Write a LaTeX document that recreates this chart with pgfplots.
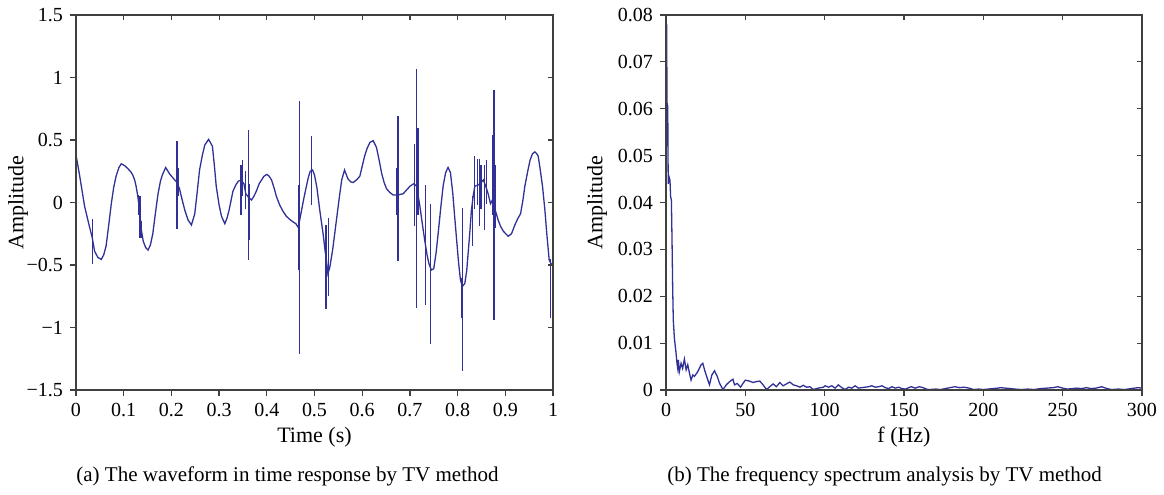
\documentclass[border=0pt]{standalone}
\usepackage{fontspec}
\setmainfont{Liberation Serif}
\usepackage{pgfplots}
\pgfplotsset{compat=1.18}
\definecolor{wave}{RGB}{48,48,150}
\pgfplotsset{
  mybase/.style={scale only axis, width=238.5pt, height=187.5pt, scaled ticks=false,
    axis line style={black!75, line width=0.6pt},
    tick style={black!75, line width=0.6pt}, major tick length=3pt,
    tick align=outside, xtick pos=left, ytick pos=left,
    ticklabel style={font=\fontsize{10}{11}\selectfont},
    label style={font=\fontsize{11}{12}\selectfont}},
  myover/.style={scale only axis, width=238.5pt, height=187.5pt, scaled ticks=false,
    axis line style={black!75, line width=0.6pt},
    tick style={black!75, line width=0.6pt}, major tick length=2.5pt,
    tick align=inside, xtick pos=right, ytick pos=right,
    xticklabels={}, yticklabels={}},
}
\begin{document}
\begin{tikzpicture}
\path[use as bounding box] (0,0) rectangle (582pt,-247pt);
% ---------- left: waveform ----------
\begin{axis}[mybase, at={(38pt,-7.5pt)}, anchor=north west,
  xmin=0, xmax=1, ymin=-1.5, ymax=1.5,
  xtick={0,0.1,0.2,0.3,0.4,0.5,0.6,0.7,0.8,0.9,1},
  xticklabels={0,0.1,0.2,0.3,0.4,0.5,0.6,0.7,0.8,0.9,1},
  ytick={-1.5,-1,-0.5,0,0.5,1,1.5},
  yticklabels={−1.5,−1,−0.5,0,0.5,1,1.5},
  xlabel={Time (s)}, ylabel={Amplitude},
  xlabel style={at={(axis description cs:0.5,-0.1253)}, anchor=center},
  ylabel style={at={(axis description cs:-0.1216,0.5)}, anchor=center},
  unbounded coords=jump]
\addplot[wave, line width=0.65pt] coordinates {
(0.000,0.38) (0.007,0.23) (0.018,-0.03) (0.028,-0.19) (0.034,-0.28) (0.039,-0.39)
(0.046,-0.44) (0.053,-0.455) (0.058,-0.42) (0.063,-0.35) (0.068,-0.20) (0.074,-0.01)
(0.079,0.12) (0.084,0.21) (0.090,0.28) (0.095,0.31) (0.102,0.295) (0.109,0.27)
(0.115,0.245) (0.119,0.22) (0.123,0.18) (0.126,0.13) (0.130,0.04) (0.134,-0.10)
(0.137,-0.22) (0.141,-0.31) (0.146,-0.36) (0.151,-0.38) (0.156,-0.34) (0.161,-0.25)
(0.166,-0.10) (0.172,0.07) (0.177,0.17) (0.181,0.22) (0.188,0.28) (0.196,0.23)
(0.207,0.18) (0.212,0.16) (0.217,0.11) (0.222,0.03) (0.228,-0.06) (0.235,-0.14)
(0.242,-0.18) (0.249,-0.09) (0.254,0.08) (0.259,0.26) (0.265,0.38) (0.270,0.46)
(0.278,0.505) (0.286,0.45) (0.290,0.30) (0.294,0.13) (0.300,-0.02) (0.305,-0.11)
(0.312,-0.17) (0.317,-0.12) (0.321,-0.06) (0.329,0.09) (0.335,0.14) (0.340,0.17)
(0.346,0.18) (0.352,0.15) (0.356,0.07) (0.362,0.04) (0.368,0.02) (0.373,0.05)
(0.378,0.09) (0.384,0.15) (0.389,0.18) (0.394,0.21) (0.400,0.225) (0.405,0.21)
(0.410,0.18) (0.415,0.12) (0.420,0.05) (0.427,-0.02) (0.434,-0.07) (0.441,-0.11)
(0.448,-0.135) (0.455,-0.155) (0.461,-0.17) (0.466,-0.20) (0.470,-0.12) (0.473,-0.06)
(0.478,0.04) (0.483,0.13) (0.487,0.20) (0.491,0.25) (0.496,0.26) (0.500,0.22)
(0.505,0.12) (0.511,-0.06) (0.518,-0.25) (0.522,-0.38) (0.525,-0.46) (0.528,-0.57)
(0.532,-0.52) (0.538,-0.38) (0.542,-0.26) (0.546,-0.14) (0.552,0.04) (0.557,0.18)
(0.563,0.26) (0.567,0.22) (0.570,0.19) (0.576,0.165) (0.581,0.16) (0.588,0.18)
(0.595,0.21) (0.600,0.29) (0.605,0.37) (0.610,0.43) (0.616,0.48) (0.623,0.495)
(0.630,0.44) (0.636,0.33) (0.641,0.23) (0.646,0.16) (0.651,0.11) (0.658,0.08)
(0.665,0.06) (0.675,0.06) (0.680,0.065) (0.686,0.07) (0.693,0.10) (0.700,0.13)
(0.708,0.15) (0.714,0.13) (0.721,-0.03) (0.726,-0.17) (0.731,-0.30) (0.736,-0.42)
(0.740,-0.49) (0.745,-0.54) (0.750,-0.53) (0.755,-0.40) (0.760,-0.22) (0.765,-0.03)
(0.770,0.14) (0.775,0.24) (0.780,0.28) (0.785,0.24) (0.790,0.07) (0.794,-0.12)
(0.798,-0.30) (0.802,-0.48) (0.806,-0.62) (0.810,-0.67) (0.815,-0.65) (0.819,-0.55)
(0.822,-0.41) (0.826,-0.22) (0.829,-0.06) (0.833,0.06) (0.836,0.13) (0.843,0.14)
(0.849,0.16) (0.854,0.18) (0.859,0.13) (0.864,0.07) (0.869,-0.01) (0.873,0.02)
(0.878,-0.05) (0.885,-0.14) (0.890,-0.19) (0.896,-0.23) (0.906,-0.27) (0.913,-0.25)
(0.920,-0.18) (0.926,-0.13) (0.932,-0.09) (0.937,0.02) (0.941,0.13) (0.947,0.25)
(0.952,0.34) (0.957,0.39) (0.962,0.405) (0.966,0.39) (0.969,0.37) (0.973,0.27)
(0.978,0.13) (0.983,-0.06) (0.987,-0.25) (0.992,-0.46) (0.996,-0.49) (1.000,-0.50)
};
\addplot[wave, line width=0.65pt] coordinates {
(0.034,-0.13) (0.034,-0.49) (0.034,nan)
(0.131,0.06) (0.131,-0.10) (0.131,nan)
(0.134,0.05) (0.134,-0.28) (0.134,nan)
(0.138,-0.15) (0.138,-0.28) (0.138,nan)
(0.212,0.49) (0.212,-0.21) (0.212,nan)
(0.215,0.28) (0.215,0.05) (0.215,nan)
(0.346,0.30) (0.346,-0.10) (0.346,nan)
(0.349,0.34) (0.349,0.05) (0.349,nan)
(0.355,0.25) (0.355,-0.05) (0.355,nan)
(0.361,0.58) (0.361,-0.46) (0.361,nan)
(0.364,0.15) (0.364,-0.30) (0.364,nan)
(0.466,0.14) (0.466,-0.54) (0.466,nan)
(0.469,0.81) (0.469,-1.21) (0.469,nan)
(0.494,0.53) (0.494,-0.02) (0.494,nan)
(0.524,-0.18) (0.524,-0.85) (0.524,nan)
(0.530,-0.12) (0.530,-0.75) (0.530,nan)
(0.673,0.28) (0.673,-0.10) (0.673,nan)
(0.675,0.69) (0.675,-0.47) (0.675,nan)
(0.709,0.47) (0.709,-0.19) (0.709,nan)
(0.714,1.07) (0.714,-0.84) (0.714,nan)
(0.717,0.60) (0.717,-0.10) (0.717,nan)
(0.733,0.14) (0.733,-0.82) (0.733,nan)
(0.743,-0.01) (0.743,-1.13) (0.743,nan)
(0.808,-0.60) (0.808,-0.92) (0.808,nan)
(0.810,-0.04) (0.810,-1.35) (0.810,nan)
(0.831,0.05) (0.831,-0.35) (0.831,nan)
(0.836,0.37) (0.836,-0.05) (0.836,nan)
(0.842,0.35) (0.842,-0.02) (0.842,nan)
(0.846,0.35) (0.846,-0.19) (0.846,nan)
(0.849,0.30) (0.849,-0.05) (0.849,nan)
(0.857,0.30) (0.857,-0.22) (0.857,nan)
(0.861,0.34) (0.861,-0.01) (0.861,nan)
(0.873,0.54) (0.873,-0.10) (0.873,nan)
(0.876,0.90) (0.876,-0.94) (0.876,nan)
(0.879,0.30) (0.879,-0.20) (0.879,nan)
(0.995,-0.45) (0.995,-0.92) (0.995,nan)
(0.999,-0.48) (0.999,-0.75)
};
\end{axis}
\begin{axis}[myover, at={(38pt,-7.5pt)}, anchor=north west,
  xmin=0, xmax=1, ymin=-1.5, ymax=1.5,
  xtick={0,0.1,0.2,0.3,0.4,0.5,0.6,0.7,0.8,0.9,1},
  ytick={-1.5,-1,-0.5,0,0.5,1,1.5}]
\end{axis}
% ---------- right: spectrum ----------
\begin{axis}[mybase, at={(333pt,-7.5pt)}, anchor=north west, width=238pt,
  xmin=0, xmax=300, ymin=0, ymax=0.08,
  xtick={0,50,100,150,200,250,300},
  xticklabels={0,50,100,150,200,250,300},
  ytick={0,0.01,0.02,0.03,0.04,0.05,0.06,0.07,0.08},
  yticklabels={0,0.01,0.02,0.03,0.04,0.05,0.06,0.07,0.08},
  xlabel={f (Hz)}, ylabel={Amplitude},
  xlabel style={at={(axis description cs:0.5,-0.1253)}, anchor=center},
  ylabel style={at={(axis description cs:-0.145,0.5)}, anchor=center}]
\addplot[wave, line width=0.65pt] coordinates {
(0.5,0.078) (0.6,0.052) (0.8,0.061) (1.1,0.0605) (1.4,0.044) (1.9,0.0455) (2.5,0.0448)
(2.9,0.0413) (3.4,0.0405) (3.8,0.032) (4.2,0.022) (4.6,0.0149) (5.3,0.0110) (6.3,0.0080)
(7.0,0.0055) (7.4,0.0046) (7.8,0.0064) (8.4,0.0039) (9.5,0.0057) (10.5,0.0046) (11.6,0.0066)
(12.7,0.0043) (13.7,0.0054) (14.8,0.0036) (15.8,0.0021) (16.9,0.0032) (17.9,0.0029)
(20.0,0.0039) (22.2,0.0054) (23.2,0.0057) (24.3,0.0043) (26.0,0.0025) (27.4,0.0011)
(28.9,0.0032) (30.6,0.0041) (32.3,0.0029) (33.8,0.0014) (35.9,0.0001) (38.0,0.0011)
(40.1,0.0018) (42.2,0.0023) (43.2,0.0011) (44.9,0.0014) (47.0,0.0006) (48.5,0.0014)
(50.0,0.0021) (52.7,0.0019) (54.9,0.0016) (57.0,0.0018) (59.1,0.0019) (61.2,0.0011)
(63.3,0.0001) (65.4,0.0007) (67.5,0.0013) (69.6,0.0007) (71.7,0.0016) (73.8,0.0009)
(75.9,0.0013) (78.0,0.0017) (80.2,0.0011) (82.3,0.0009) (84.4,0.0006) (86.5,0.0010)
(88.6,0.0006) (90.7,0.0007) (92.8,0.0001) (96.0,0.0004) (99.2,0.0006) (100.3,0.0009)
(102.4,0.0006) (104.5,0.0009) (106.6,0.0004) (108.6,0.0011) (110.8,0.0005) (112.9,0.0001)
(115.0,0.0006) (117.1,0.0004) (119.2,0.0009) (121.3,0.0004) (123.4,0.0005) (125.5,0.0006)
(127.6,0.0007) (129.7,0.0009) (131.9,0.0006) (134.0,0.0007) (136.1,0.0009) (138.2,0.0005)
(140.3,0.0003) (142.4,0.0007) (144.5,0.0004) (146.6,0.0006) (148.7,0.0003) (151.0,0.0002)
(153.0,0.0005) (154.7,0.0007) (157.0,0.0004) (159.7,0.0007) (162.0,0.0005) (164.0,0.0002)
(166.0,0.0001) (170.0,0.0002) (173.0,0.0001) (176.0,0.0003) (179.0,0.0005) (182.0,0.0007)
(185.0,0.0005) (188.0,0.0006) (191.0,0.0004) (194.0,0.0001) (197.0,0.0002) (200.0,0.0001)
(203.0,0.0002) (206.0,0.0003) (209.0,0.0004) (211.0,0.0005) (214.0,0.0004) (217.0,0.0003)
(220.0,0.0002) (224.0,0.0001) (228.0,0.0002) (232.0,0.0001) (236.0,0.0003) (240.0,0.0004)
(244.0,0.0005) (247.0,0.0007) (250.0,0.0004) (253.0,0.0002) (256.0,0.0003) (259.0,0.0004)
(262.0,0.0003) (265.0,0.0005) (268.0,0.0003) (271.0,0.0004) (274.6,0.0007) (278.0,0.0003)
(281.0,0.0001) (285.0,0.0002) (289.0,0.0001) (293.0,0.0003) (297.5,0.0005) (300.0,0.0004)
};
\end{axis}
\begin{axis}[myover, at={(333pt,-7.5pt)}, anchor=north west, width=238pt,
  xmin=0, xmax=300, ymin=0, ymax=0.08,
  xtick={0,50,100,150,200,250,300},
  ytick={0,0.01,0.02,0.03,0.04,0.05,0.06,0.07,0.08}]
\end{axis}
% ---------- captions ----------
\node[font=\fontsize{10.5}{12}\selectfont, anchor=center] at (143.75pt,-238pt) {(a) The waveform in time response by TV method};
\node[font=\fontsize{10.5}{12}\selectfont, anchor=center] at (442.25pt,-238pt) {(b) The frequency spectrum analysis by TV method};
\end{tikzpicture}
\end{document}
